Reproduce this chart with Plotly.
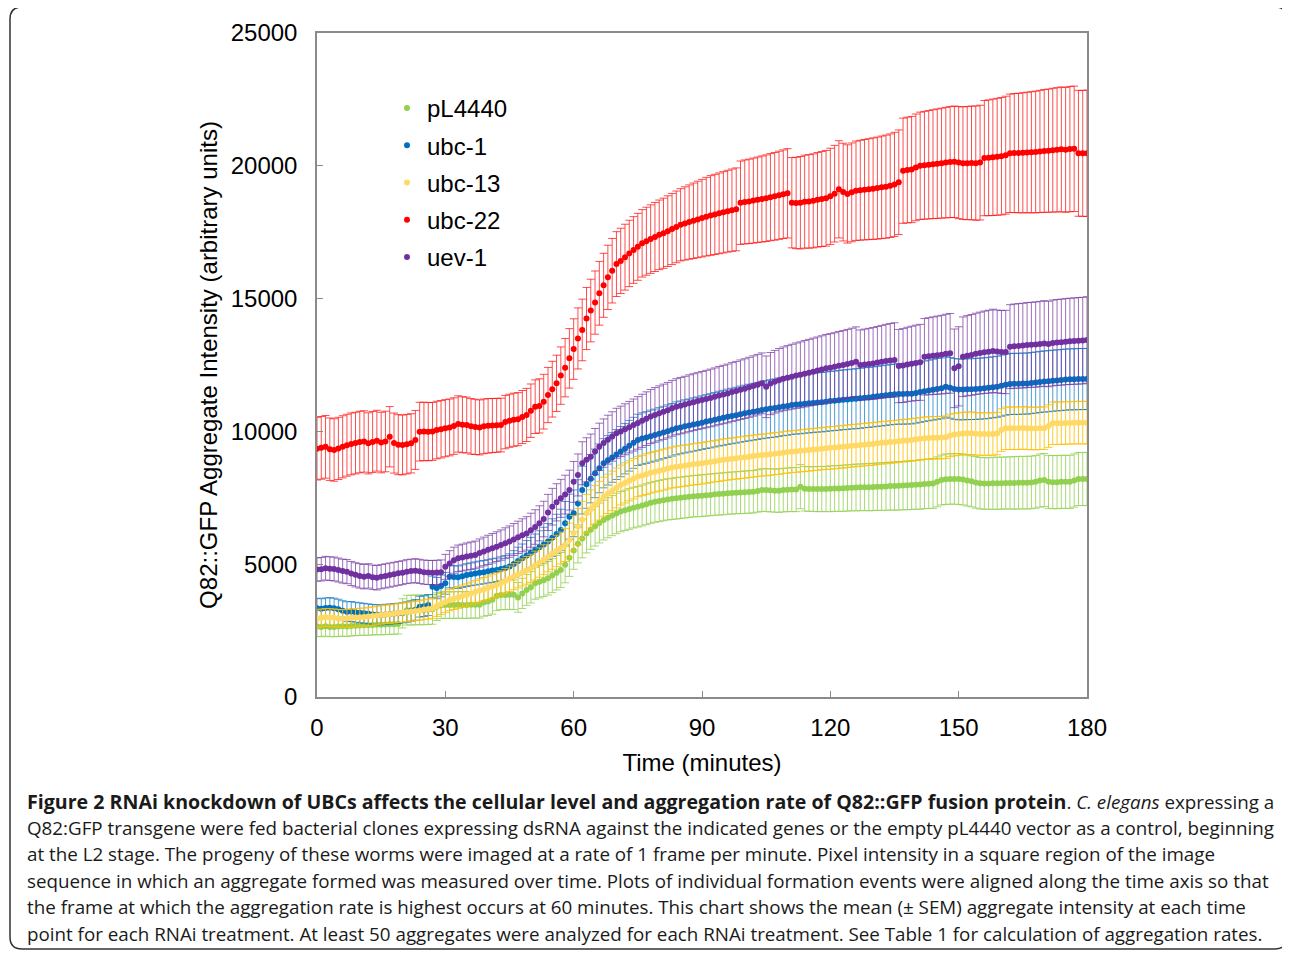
import plotly.graph_objects as go

# ---------------- data ----------------
TIME_MIN = list(range(0, 181))  # one frame per minute

SERIES_NAMES = ["pL4440", "ubc-1", "ubc-13", "ubc-22", "uev-1"]

PL4440 = [
    2650, 2640, 2660, 2640, 2640, 2650, 2660, 2650, 2670, 2680,
    2690, 2700, 2700, 2710, 2720, 2720, 2730, 2740, 2740, 2750,
    3150, 3270, 3270, 3280, 3280, 3280, 3290, 3300, 3400, 3450,
    3460, 3460, 3460, 3470, 3460, 3460, 3470, 3470, 3470, 3560,
    3600, 3660, 3800, 3840, 3840, 3850, 3850, 3750, 3900, 4030,
    4130, 4280, 4340, 4400, 4470, 4570, 4680, 4780, 4980, 5240,
    5520, 5770, 5970, 6160, 6300, 6430, 6550, 6660, 6750, 6830,
    6910, 6980, 7030, 7080, 7130, 7165, 7210, 7260, 7310, 7350,
    7380, 7410, 7440, 7460, 7480, 7500, 7520, 7540, 7560, 7570,
    7580, 7600, 7610, 7630, 7640, 7650, 7670, 7680, 7690, 7700,
    7710, 7720, 7730, 7760, 7790, 7790, 7780, 7770, 7770, 7790,
    7800, 7810, 7810, 7920, 7840, 7830, 7830, 7830, 7830, 7830,
    7840, 7850, 7850, 7860, 7870, 7880, 7890, 7893, 7900, 7900,
    7910, 7920, 7920, 7930, 7940, 7943, 7950, 7960, 7970, 7980,
    7990, 8000, 8020, 8030, 8040, 8100, 8170, 8200, 8210, 8210,
    8208, 8190, 8150, 8120, 8080, 8050, 8040, 8040, 8045, 8050,
    8050, 8060, 8060, 8060, 8070, 8070, 8070, 8080, 8100, 8150,
    8170, 8100, 8090, 8090, 8100, 8100, 8100, 8150, 8208, 8208,
    8208,
]
PL4440_SEM = [
    370, 370, 370, 370, 370, 370, 370, 370, 370, 370,
    370, 375, 375, 375, 375, 380, 380, 380, 380, 380,
    550, 560, 560, 560, 560, 560, 560, 560, 520, 500,
    500, 500, 500, 500, 500, 500, 500, 500, 500, 520,
    530, 540, 550, 550, 550, 550, 560, 560, 570, 580,
    590, 600, 610, 620, 630, 640, 650, 660, 680, 700,
    710, 720, 730, 735, 740, 745, 750, 750, 755, 755,
    760, 760, 760, 765, 765, 765, 770, 770, 770, 770,
    775, 775, 775, 775, 780, 780, 780, 780, 780, 780,
    785, 785, 785, 785, 790, 790, 790, 790, 790, 795,
    800, 800, 800, 800, 800, 810, 810, 810, 820, 820,
    820, 830, 830, 830, 840, 840, 840, 850, 850, 850,
    860, 860, 860, 870, 870, 870, 880, 880, 880, 890,
    890, 890, 900, 900, 900, 910, 910, 910, 920, 920,
    920, 930, 930, 930, 940, 940, 940, 950, 950, 950,
    960, 960, 960, 960, 970, 970, 970, 970, 980, 980,
    980, 980, 980, 990, 990, 990, 990, 990, 990, 1000,
    1000, 1000, 1000, 1000, 1000, 1000, 1000, 1000, 1000, 1000,
    1000,
]

UBC1 = [
    3340, 3320, 3350, 3360, 3340, 3300, 3250, 3210, 3220, 3190,
    3170, 3150, 3130, 3110, 3100, 3090, 3110, 3120, 3140, 3150,
    3170, 3200, 3240, 3280, 3400, 3420, 3460, 4150, 4100, 4180,
    4280, 4530, 4520, 4510, 4550, 4590, 4620, 4650, 4680, 4700,
    4730, 4760, 4780, 4820, 4860, 4910, 5010, 5120, 5220, 5330,
    5430, 5535, 5640, 5740, 5850, 6000, 6140, 6290, 6540, 6790,
    6915, 7290, 7790, 8010, 8220, 8420, 8610, 8800, 8910, 9020,
    9130, 9240, 9350, 9460, 9570, 9680, 9730, 9770, 9820, 9860,
    9910, 9960, 10010, 10060, 10115, 10150, 10190, 10220, 10260, 10290,
    10330, 10370, 10400, 10440, 10480, 10510, 10550, 10580, 10610, 10650,
    10680, 10710, 10740, 10770, 10806, 10830, 10860, 10880, 10910, 10940,
    10960, 10990, 11010, 11020, 11040, 11060, 11070, 11090, 11100, 11120,
    11140, 11150, 11170, 11190, 11200, 11220, 11230, 11245, 11270, 11280,
    11300, 11320, 11340, 11360, 11380, 11400, 11410, 11410, 11420, 11420,
    11450, 11480, 11510, 11540, 11570, 11600, 11620, 11680, 11640, 11600,
    11580, 11580, 11590, 11590, 11600, 11610, 11620, 11640, 11660, 11680,
    11720, 11760, 11785, 11790, 11790, 11800, 11800, 11820, 11840, 11860,
    11880, 11890, 11910, 11920, 11935, 11950, 11960, 11960, 11970, 11970,
    11973,
]
UBC1_SEM = [
    380, 380, 380, 380, 380, 380, 375, 375, 375, 375,
    375, 375, 375, 375, 375, 375, 380, 380, 380, 380,
    380, 385, 385, 390, 390, 390, 395, 400, 400, 410,
    410, 420, 420, 425, 425, 430, 430, 435, 435, 440,
    440, 445, 450, 460, 470, 480, 500, 520, 540, 560,
    580, 600, 620, 650, 680, 710, 740, 780, 820, 850,
    880, 890, 900, 905, 910, 915, 920, 925, 930, 935,
    940, 945, 950, 955, 960, 965, 970, 975, 980, 980,
    985, 985, 990, 990, 995, 995, 1000, 1000, 1005, 1005,
    1010, 1015, 1020, 1025, 1030, 1035, 1040, 1045, 1050, 1055,
    1060, 1065, 1070, 1075, 1080, 1085, 1090, 1095, 1100, 1100,
    1105, 1105, 1110, 1110, 1110, 1115, 1115, 1115, 1120, 1120,
    1120, 1120, 1125, 1125, 1125, 1125, 1130, 1130, 1130, 1130,
    1130, 1130, 1135, 1135, 1135, 1135, 1135, 1140, 1140, 1140,
    1140, 1140, 1140, 1140, 1145, 1145, 1145, 1145, 1145, 1145,
    1145, 1145, 1145, 1145, 1150, 1150, 1150, 1150, 1150, 1150,
    1150, 1150, 1150, 1150, 1150, 1150, 1150, 1150, 1150, 1150,
    1150, 1150, 1150, 1150, 1150, 1150, 1150, 1150, 1150, 1150,
    1150,
]

UBC13 = [
    2950, 2980, 3000, 2990, 2980, 2960, 2950, 2960, 2970, 2990,
    3000, 3010, 3030, 3050, 3070, 3090, 3110, 3120, 3140, 3160,
    3180, 3200, 3220, 3240, 3260, 3290, 3310, 3340, 3420, 3500,
    3580, 3650, 3700, 3750, 3800, 3840, 3900, 3960, 4010, 4060,
    4110, 4170, 4220, 4290, 4370, 4450, 4530, 4610, 4690, 4770,
    4845, 4950, 5060, 5170, 5280, 5390, 5500, 5610, 5720, 5910,
    6170, 6420, 6670, 6915, 7080, 7240, 7390, 7540, 7650, 7760,
    7870, 7980, 8060, 8140, 8220, 8300, 8340, 8390, 8440, 8480,
    8520, 8560, 8600, 8640, 8670, 8690, 8710, 8740, 8760, 8780,
    8800, 8830, 8850, 8880, 8900, 8930, 8950, 8970, 8990, 9010,
    9030, 9050, 9070, 9090, 9110, 9120, 9140, 9160, 9175, 9200,
    9220, 9236, 9250, 9270, 9280, 9300, 9320, 9330, 9350, 9363,
    9380, 9390, 9410, 9420, 9440, 9460, 9470, 9488, 9500, 9520,
    9530, 9550, 9570, 9580, 9600, 9612, 9630, 9650, 9660, 9680,
    9700, 9720, 9740, 9750, 9760, 9760, 9770, 9780, 9850, 9880,
    9900, 9920, 9930, 9930, 9910, 9900, 9900, 9900, 9902, 9920,
    10050, 10116, 10120, 10120, 10120, 10130, 10120, 10110, 10110, 10120,
    10120, 10200, 10305, 10310, 10310, 10320, 10320, 10330, 10330, 10330,
    10330,
]
UBC13_SEM = [
    330, 330, 330, 335, 335, 335, 335, 340, 340, 340,
    340, 340, 345, 345, 345, 350, 350, 350, 355, 355,
    360, 360, 365, 365, 370, 370, 375, 380, 385, 390,
    395, 400, 405, 410, 415, 420, 425, 430, 435, 440,
    445, 450, 455, 460, 470, 480, 490, 500, 510, 520,
    530, 540, 550, 560, 570, 580, 590, 600, 620, 640,
    660, 680, 700, 710, 720, 725, 730, 735, 740, 745,
    750, 750, 755, 755, 760, 760, 760, 765, 765, 765,
    770, 770, 770, 770, 775, 775, 775, 775, 780, 780,
    780, 780, 780, 780, 785, 785, 785, 785, 785, 785,
    790, 790, 790, 790, 790, 790, 790, 790, 790, 790,
    790, 790, 790, 790, 795, 795, 795, 795, 795, 795,
    800, 800, 800, 800, 800, 800, 800, 800, 800, 800,
    800, 800, 800, 800, 800, 800, 800, 800, 800, 800,
    800, 800, 800, 800, 800, 800, 800, 800, 800, 800,
    800, 800, 800, 800, 800, 800, 800, 800, 800, 800,
    800, 800, 800, 800, 800, 800, 800, 800, 800, 800,
    800, 800, 800, 800, 800, 800, 800, 800, 800, 800,
    800,
]

UBC22 = [
    9350, 9380, 9420, 9330, 9300, 9360, 9420, 9480, 9530, 9560,
    9600, 9620, 9550, 9600, 9650, 9580, 9620, 9800, 9560, 9500,
    9490, 9520, 9550, 9680, 9990, 10000, 9990, 10000, 10050, 10080,
    10120, 10150, 10200, 10280, 10250, 10240, 10190, 10170, 10150, 10190,
    10210, 10220, 10230, 10240, 10350, 10400, 10440, 10460, 10540, 10620,
    10780, 10930, 10960, 11120, 11370, 11590, 11810, 12100, 12400, 12750,
    13100, 13500, 13820, 14250, 14550, 14850, 15200, 15500, 15800, 16050,
    16300, 16420, 16560, 16700, 16830, 16950, 17080, 17160, 17240, 17320,
    17400, 17460, 17540, 17620, 17700, 17780, 17830, 17880, 17930, 17980,
    18030, 18085, 18130, 18170, 18210, 18250, 18290, 18330, 18360, 18610,
    18640, 18660, 18690, 18720, 18750, 18780, 18820, 18850, 18890, 18930,
    18965, 18610, 18600, 18610, 18650, 18660, 18680, 18720, 18750, 18775,
    18850, 18950, 19115, 19010, 18940, 19000, 19060, 19080, 19100, 19120,
    19140, 19160, 19190, 19215, 19250, 19300, 19380, 19815, 19840, 19860,
    19940, 20000, 20020, 20040, 20060, 20080, 20100, 20120, 20140, 20150,
    20120, 20100, 20100, 20110, 20100, 20120, 20290, 20300, 20320, 20340,
    20360, 20400, 20470, 20480, 20480, 20490, 20500, 20510, 20520, 20540,
    20560, 20570, 20590, 20600, 20620, 20600, 20630, 20640, 20470, 20470,
    20470,
]
UBC22_SEM = [
    1180, 1180, 1180, 1175, 1175, 1170, 1170, 1165, 1165, 1160,
    1160, 1155, 1150, 1150, 1145, 1140, 1140, 1135, 1130, 1130,
    1125, 1120, 1115, 1110, 1105, 1100, 1095, 1090, 1085, 1080,
    1075, 1070, 1065, 1060, 1055, 1050, 1045, 1040, 1035, 1030,
    1025, 1020, 1015, 1010, 1005, 1000, 1000, 1000, 1000, 1000,
    1005, 1010, 1020, 1030, 1040, 1050, 1060, 1080, 1100, 1120,
    1140, 1150, 1160, 1170, 1180, 1190, 1200, 1205, 1210, 1215,
    1220, 1230, 1240, 1250, 1255, 1260, 1270, 1280, 1290, 1300,
    1310, 1320, 1330, 1340, 1350, 1360, 1380, 1400, 1420, 1440,
    1460, 1480, 1500, 1510, 1520, 1530, 1540, 1550, 1560, 1570,
    1580, 1590, 1600, 1610, 1620, 1630, 1640, 1650, 1660, 1670,
    1680, 1700, 1720, 1740, 1750, 1760, 1770, 1780, 1790, 1800,
    1810, 1820, 1830, 1840, 1850, 1860, 1870, 1880, 1890, 1900,
    1910, 1920, 1930, 1940, 1950, 1960, 1970, 1980, 1990, 2000,
    2010, 2020, 2030, 2040, 2050, 2060, 2070, 2080, 2090, 2100,
    2110, 2120, 2130, 2140, 2150, 2160, 2170, 2180, 2190, 2200,
    2210, 2220, 2230, 2240, 2250, 2260, 2270, 2280, 2290, 2300,
    2310, 2320, 2330, 2340, 2350, 2350, 2360, 2360, 2370, 2370,
    2380,
]

UEV1 = [
    4800, 4810, 4850, 4830, 4820, 4780, 4740, 4720, 4650, 4600,
    4560, 4530, 4560, 4510, 4490, 4530, 4560, 4590, 4620, 4655,
    4680, 4720, 4740, 4755, 4730, 4700, 4690, 4680, 4690, 4700,
    4900, 5030, 5150, 5220, 5250, 5290, 5320, 5350, 5420, 5480,
    5540, 5600, 5660, 5720, 5790, 5850, 5930, 6010, 6090, 6160,
    6280, 6400, 6540, 6700, 6950, 7165, 7330, 7480, 7620, 7790,
    8100, 8360, 8800, 8930, 9050, 9240, 9420, 9560, 9690, 9810,
    9930, 10000, 10080, 10160, 10240, 10320, 10400, 10480, 10560, 10620,
    10680, 10740, 10800, 10870, 10930, 10970, 11010, 11060, 11100, 11140,
    11180, 11220, 11260, 11300, 11350, 11390, 11430, 11480, 11520, 11570,
    11610, 11660, 11710, 11760, 11810, 11680, 11800, 11870, 11930, 11980,
    12020, 12060, 12100, 12130, 12170, 12210, 12250, 12290, 12330, 12375,
    12400, 12430, 12470, 12500, 12540, 12580, 12625, 12500, 12520, 12540,
    12560, 12590, 12620, 12650, 12670, 12690, 12460, 12480, 12520, 12550,
    12580, 12600, 12810, 12830, 12850, 12870, 12890, 12920, 12940, 12375,
    12450, 12810, 12850, 12880, 12920, 12950, 12980, 13000, 13030, 13010,
    12990, 12990, 13190, 13210, 13220, 13230, 13250, 13260, 13270, 13290,
    13310, 13290, 13330, 13350, 13360, 13380, 13390, 13400, 13410, 13420,
    13440,
]
UEV1_SEM = [
    440, 440, 445, 445, 450, 450, 450, 455, 455, 455,
    460, 460, 460, 460, 460, 455, 455, 455, 450, 450,
    450, 450, 450, 450, 455, 455, 455, 460, 460, 460,
    470, 480, 490, 500, 505, 510, 515, 520, 530, 540,
    550, 555, 560, 570, 580, 590, 600, 610, 620, 630,
    640, 650, 660, 670, 680, 690, 700, 715, 730, 750,
    770, 790, 810, 830, 850, 870, 890, 910, 920, 930,
    940, 950, 960, 970, 980, 990, 1000, 1010, 1020, 1030,
    1035, 1040, 1045, 1050, 1055, 1060, 1065, 1070, 1070, 1070,
    1075, 1080, 1085, 1090, 1095, 1100, 1105, 1110, 1115, 1120,
    1125, 1130, 1135, 1140, 1145, 1160, 1170, 1180, 1190, 1200,
    1210, 1220, 1230, 1240, 1250, 1255, 1260, 1265, 1270, 1275,
    1280, 1285, 1290, 1295, 1300, 1305, 1310, 1320, 1330, 1340,
    1350, 1360, 1370, 1380, 1390, 1400, 1380, 1390, 1400, 1410,
    1420, 1430, 1440, 1450, 1460, 1470, 1480, 1490, 1500, 1480,
    1490, 1500, 1510, 1520, 1530, 1540, 1550, 1560, 1570, 1560,
    1560, 1570, 1580, 1585, 1590, 1595, 1600, 1600, 1605, 1605,
    1610, 1610, 1615, 1615, 1620, 1620, 1625, 1625, 1630, 1630,
    1630,
]

X_TICKS = [0, 30, 60, 90, 120, 150, 180]
Y_TICKS = [0, 5000, 10000, 15000, 20000, 25000]

CAPTION_BOLD = "Figure 2 RNAi knockdown of UBCs affects the cellular level and aggregation rate of Q82::GFP fusion protein"
CAPTION_LINES = [
    "<b><span style='font-size:19.6px'>" + CAPTION_BOLD + "</span></b>. <i>C. elegans</i> expressing a",
    "Q82:GFP transgene were fed bacterial clones expressing dsRNA against the indicated genes or the empty pL4440 vector as a control, beginning",
    "at the L2 stage. The progeny of these worms were imaged at a rate of 1 frame per minute. Pixel intensity in a square region of the image",
    "sequence in which an aggregate formed was measured over time. Plots of individual formation events were aligned along the time axis so that",
    "the frame at which the aggregation rate is highest occurs at 60 minutes. This chart shows the mean (\u00b1 SEM) aggregate intensity at each time",
    "point for each RNAi treatment. At least 50 aggregates were analyzed for each RNAi treatment. See Table 1 for calculation of aggregation rates.",
]

# ---------------- styling ----------------
VALUES = [PL4440, UBC1, UBC13, UBC22, UEV1]
SEMS = [PL4440_SEM, UBC1_SEM, UBC13_SEM, UBC22_SEM, UEV1_SEM]
for v, s, n in zip(VALUES, SEMS, SERIES_NAMES):
    if len(v) != len(TIME_MIN) or len(s) != len(TIME_MIN):
        raise SystemExit(f"length mismatch for {n}: {len(v)} {len(s)}")

MARKER_COLORS = ["#92D050", "#0070C0", "#FFD966", "#FF0000", "#7030A0"]
ERR_COLORS = ["rgba(146,208,80,0.8)", "rgba(0,112,192,0.7)", "rgba(255,192,0,0.85)",
              "rgba(255,0,0,0.7)", "rgba(112,48,160,0.7)"]

OFF = 8  # the page body has an 8px margin; all page-pixel positions are shifted by it
W, H = 1290 - OFF, 953 - OFF
PL, PR, PT, PB = 317 - OFF, 1087 - OFF, 33 - OFF, 697 - OFF  # plot area (figure pixels)


def xp(page_px):
    return (page_px - OFF - PL) / (PR - PL)


def yp(page_py):
    return (PB - (page_py - OFF)) / (PB - PT)


FONT = "Liberation Sans, Arial, sans-serif"

fig = go.Figure()
for i, (name, vals, sem) in enumerate(zip(SERIES_NAMES, VALUES, SEMS)):
    fig.add_trace(go.Scatter(
        x=TIME_MIN, y=vals, name=name, mode="markers", legendgroup=name,
        marker=dict(color=MARKER_COLORS[i], size=6, symbol="circle", line=dict(width=0)),
        error_y=dict(type="data", array=sem, visible=True, color=ERR_COLORS[i],
                     thickness=1, width=4),
    ))

axis_common = dict(
    showline=True, linecolor="#8a8a8a", linewidth=1.5, mirror=True,
    ticks="inside", ticklen=6, tickcolor="#8a8a8a", tickwidth=1,
    showgrid=False, zeroline=False,
    tickfont=dict(family=FONT, size=24, color="black"),
)

fig.update_xaxes(range=[0, 180], tickvals=X_TICKS, ticklabelstandoff=8,
                 title=dict(text="Time (minutes)", font=dict(family=FONT, size=24, color="black"), standoff=15),
                 **axis_common)
fig.update_yaxes(range=[0, 25000], tickvals=Y_TICKS, tickformat="d", ticklabelstandoff=13,
                 title=dict(text="Q82::GFP Aggregate Intensity (arbitrary units)",
                            font=dict(family=FONT, size=24, color="black"), standoff=6),
                 **axis_common)

annotations = []
line_y = [801, 828, 854, 881, 907, 934]
for txt, py in zip(CAPTION_LINES, line_y):
    annotations.append(dict(
        text=txt, xref="paper", yref="paper", x=xp(25), y=yp(py),
        xanchor="left", yanchor="middle", showarrow=False, align="left",
        font=dict(family="Open Sans, Noto Sans, sans-serif", size=18.8, color="#1a1a1a"),
    ))

# rounded figure frame (page pixels)
L, R, T, B, r = 10, 1287, 7, 949, 12
rx, ry = r / (PR - PL), r / (PB - PT)
path = (f"M {xp(L) + rx} {yp(T)} L {xp(R) - rx} {yp(T)} Q {xp(R)} {yp(T)} {xp(R)} {yp(T) - ry} "
        f"L {xp(R)} {yp(B) + ry} Q {xp(R)} {yp(B)} {xp(R) - rx} {yp(B)} "
        f"L {xp(L) + rx} {yp(B)} Q {xp(L)} {yp(B)} {xp(L)} {yp(B) + ry} "
        f"L {xp(L)} {yp(T) - ry} Q {xp(L)} {yp(T)} {xp(L) + rx} {yp(T)} Z")

fig.update_layout(
    width=W, height=H, autosize=False,
    margin=dict(l=PL, r=W - PR, t=PT, b=H - PB),
    paper_bgcolor="white", plot_bgcolor="white",
    font=dict(family=FONT, color="black"),
    showlegend=True,
    legend=dict(x=xp(387), y=yp(86), xanchor="left", yanchor="top",
                bgcolor="rgba(0,0,0,0)", font=dict(family=FONT, size=24, color="black"),
                tracegroupgap=3, itemsizing="trace"),
    annotations=annotations,
    shapes=[dict(type="path", path=path, xref="paper", yref="paper",
                 line=dict(color="#333333", width=1.5), fillcolor="rgba(0,0,0,0)", layer="below")],
)

fig.write_html("out.html")
